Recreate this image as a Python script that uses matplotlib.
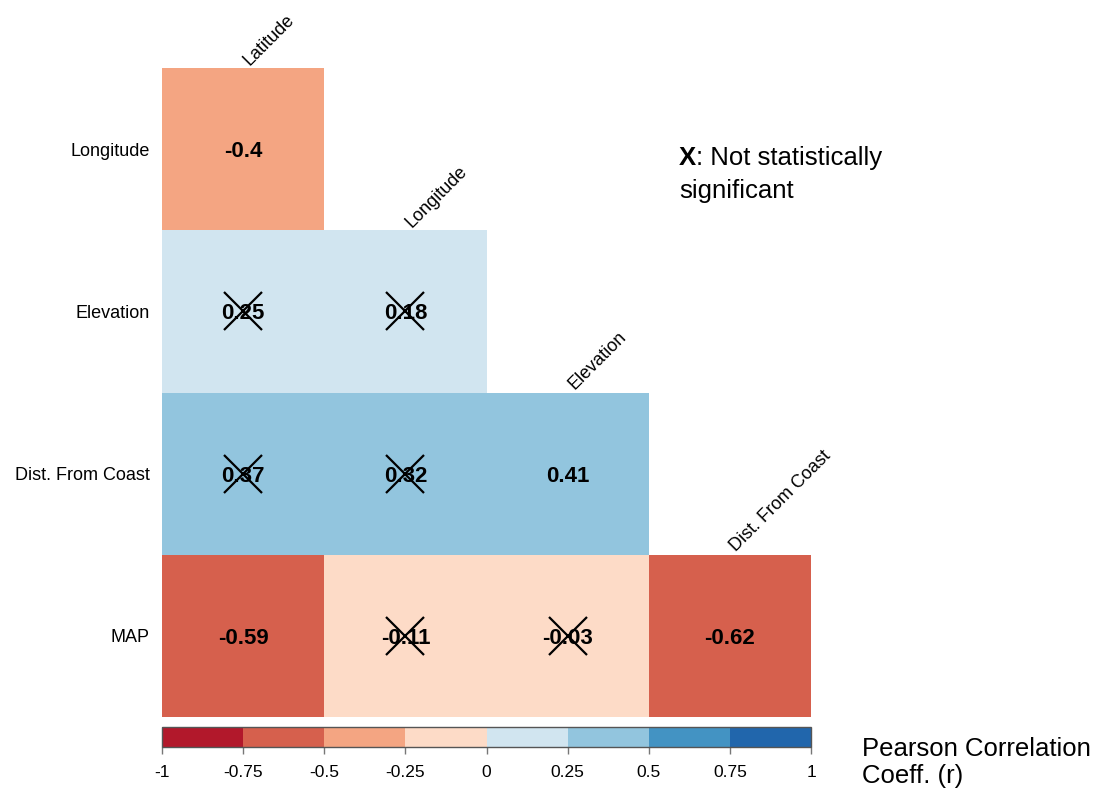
import numpy as np
import matplotlib
matplotlib.use("Agg")
from matplotlib import pyplot as plt
from matplotlib.colors import ListedColormap, BoundaryNorm
from matplotlib.cm import ScalarMappable

plt.rcParams["font.family"] = ["Liberation Sans", "DejaVu Sans"]

col_labels = ["Latitude", "Longitude", "Elevation", "Dist. From Coast"]
row_labels = ["Longitude", "Elevation", "Dist. From Coast", "MAP"]

# lower triangle of the correlation matrix (NaN = not drawn)
r_values = np.array([
    [-0.40, np.nan, np.nan, np.nan],
    [0.25, 0.18, np.nan, np.nan],
    [0.37, 0.32, 0.41, np.nan],
    [-0.59, -0.11, -0.03, -0.62],
])
not_significant = np.array([
    [False, False, False, False],
    [True, True, False, False],
    [True, True, False, False],
    [False, True, True, False],
])

bounds = [-1, -0.75, -0.5, -0.25, 0, 0.25, 0.5, 0.75, 1]
colors = ["#B2182B", "#D6604D", "#F4A582", "#FDDBC7",
          "#D1E5F0", "#92C5DE", "#4393C3", "#2166AC"]
cmap = ListedColormap(colors)
norm = BoundaryNorm(bounds, cmap.N)

# bins closed on the right: (lo, hi]
bin_idx = np.searchsorted(bounds, np.nan_to_num(r_values), side="left") - 1
bin_idx = np.clip(bin_idx, 0, len(colors) - 1).astype(float)
bin_idx[np.isnan(r_values)] = np.nan
idx_norm = BoundaryNorm(np.arange(-0.5, len(colors) + 0.5), cmap.N)

fig = plt.figure(figsize=(11.01, 7.95), dpi=100)
ax = fig.add_axes([162 / 1101, 1 - 717 / 795, 649 / 1101, 649 / 795])

ax.pcolormesh(np.ma.masked_invalid(bin_idx), cmap=cmap, norm=idx_norm)
ax.set_xlim(0, 4)
ax.set_ylim(4, 0)
for s in ax.spines.values():
    s.set_visible(False)
ax.set_xticks([])
ax.set_yticks(np.arange(4) + 0.5)
ax.set_yticklabels(row_labels, fontsize=13)
ax.tick_params(axis="y", length=0, pad=9)

n_rows, n_cols = r_values.shape
for i in range(n_rows):
    for j in range(n_cols):
        v = r_values[i, j]
        if np.isnan(v):
            continue
        ax.text(j + 0.5, i + 0.5, "{:g}".format(v), ha="center",
                va="center_baseline", fontsize=16, fontweight="bold",
                color="black")
        if not_significant[i, j]:
            ax.plot(j + 0.5, i + 0.5, marker="x", ms=27, mew=1.6, color="black")

# column names sit on top of the diagonal cells
for j, name in enumerate(col_labels):
    ax.text(j + 0.54, j - 0.015, name, rotation=45, rotation_mode="anchor",
            ha="left", va="baseline", fontsize=13)

# colour key
cax = fig.add_axes([162 / 1101, 1 - 747 / 795, 649 / 1101, 20 / 795])
cb = fig.colorbar(ScalarMappable(norm=norm, cmap=cmap), cax=cax,
                  orientation="horizontal", ticks=bounds)
cb.ax.set_xticklabels(["{:g}".format(b) for b in bounds], fontsize=12.5)
cb.ax.tick_params(length=5, width=1, color="#777777", pad=8)
cb.outline.set_edgecolor("#555555")
cb.outline.set_linewidth(1)

fig.text(862 / 1101, 1 - 737 / 795, "Pearson Correlation\nCoeff. (r)",
         ha="left", va="top", fontsize=18.5, linespacing=1.15)

xt = fig.text(679 / 1101, 1 - 165 / 795, "X", fontsize=18.5, fontweight="bold",
              ha="left", va="baseline")
ax.annotate(": Not statistically", xy=(1, 0), xycoords=xt, ha="left",
            va="bottom", fontsize=18.5, annotation_clip=False)
fig.text(679 / 1101, 1 - 198 / 795, "significant", fontsize=18.5,
         ha="left", va="baseline")

fig.savefig("out.png", dpi=100)
